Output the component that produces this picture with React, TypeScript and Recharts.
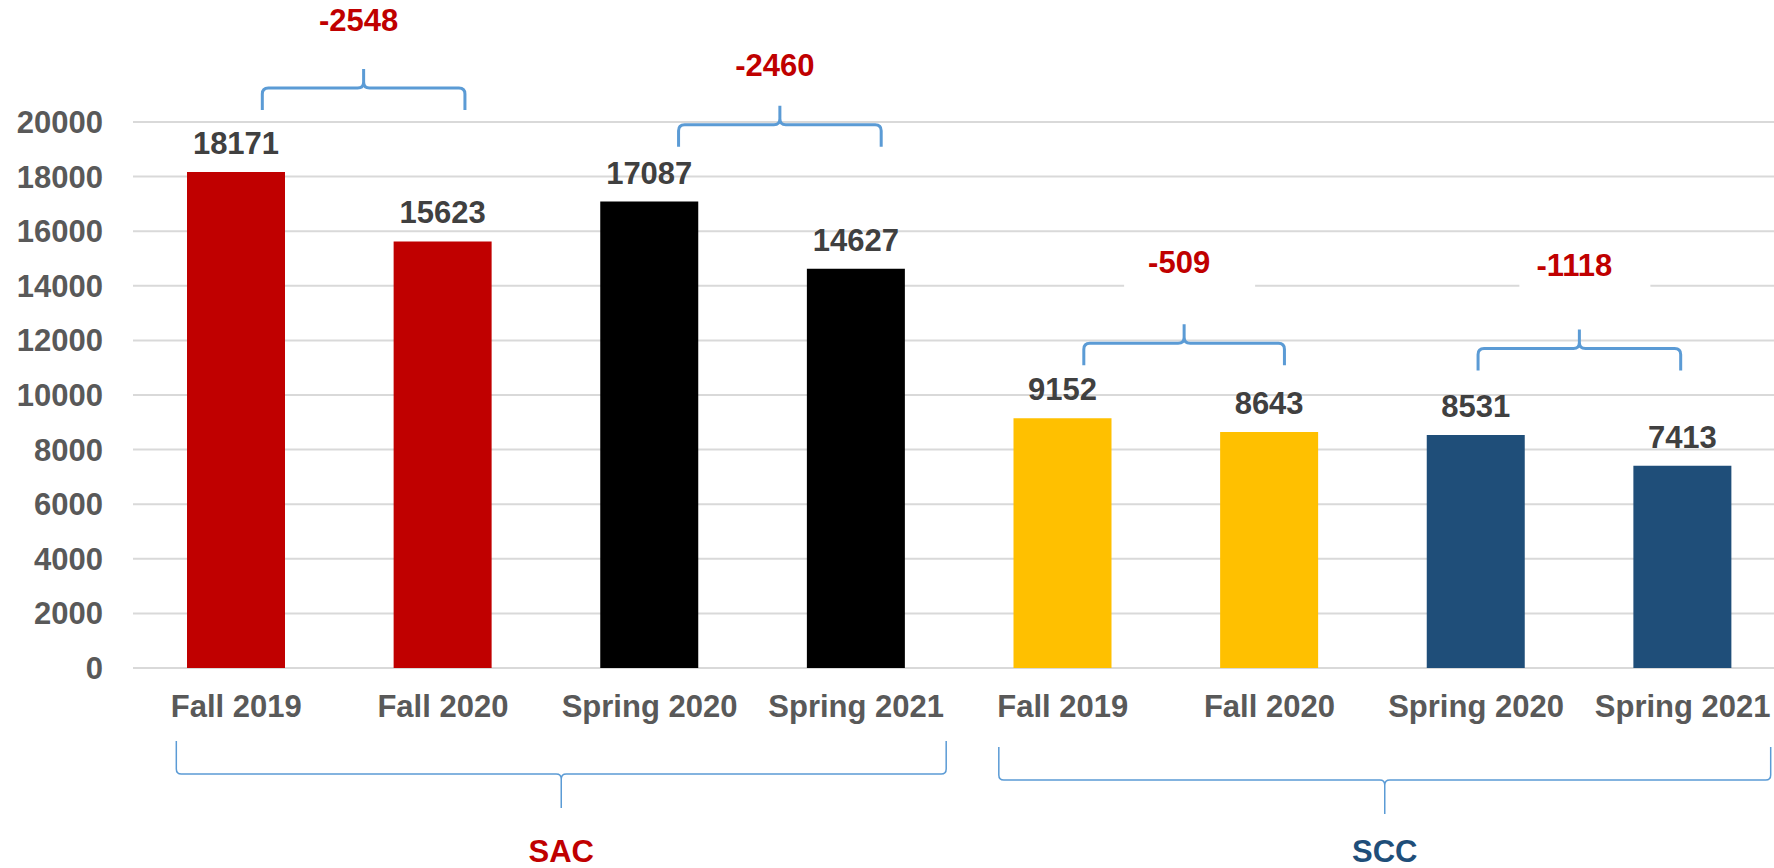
import { BarChart, Bar, XAxis, YAxis, CartesianGrid, Cell, LabelList, ReferenceLine } from "recharts";

const terms = ["Fall 2019", "Fall 2020", "Spring 2020", "Spring 2021"];
const sacValues = [18171, 15623, 17087, 14627];
const sccValues = [9152, 8643, 8531, 7413];
const yTicks = [0, 2000, 4000, 6000, 8000, 10000, 12000, 14000, 16000, 18000, 20000];

const barColors = ["#C00000", "#C00000", "#000000", "#000000", "#FFC000", "#FFC000", "#1F4E79", "#1F4E79"];
const BRACE = "#5B9BD5";
const FONT = 31;

const rows = [
  ...terms.map((t, i) => ({ key: `SAC|${t}`, value: sacValues[i] })),
  ...terms.map((t, i) => ({ key: `SCC|${t}`, value: sccValues[i] })),
];
const valueOf = (k: string) => rows.find(r => r.key === k)!.value;

// brackets over each pair; level / labelLevel in y units, dx in px
const pairs = [
  { from: "SAC|Fall 2019", to: "SAC|Fall 2020", level: 21250, labelLevel: 23330, dx: [26, 22], boxed: false },
  { from: "SAC|Spring 2020", to: "SAC|Spring 2021", level: 19900, labelLevel: 21670, dx: [29, 25], boxed: false },
  { from: "SCC|Fall 2019", to: "SCC|Fall 2020", level: 11900, labelLevel: 14470, dx: [21, 15], boxed: true },
  { from: "SCC|Spring 2020", to: "SCC|Spring 2021", level: 11700, labelLevel: 14360, dx: [2, -2], boxed: true },
];

// college brackets under the axis
const groups = [
  { name: "SAC", color: "#C00000", from: "SAC|Fall 2019", to: "SAC|Spring 2021", level: -3880, dx: [-60, 90], titleGap: 88 },
  { name: "SCC", color: "#1F4E79", from: "SCC|Fall 2019", to: "SCC|Spring 2021", level: -4100, dx: [-64, 88], titleGap: 82 },
];

// dir 1: legs go down, cusp up; dir -1: legs up, cusp down
function bracePath(xl: number, xr: number, y: number, leg: number, cusp: number, dir: number, r: number) {
  const xm = (xl + xr) / 2;
  return [
    `M${xl},${y + dir * leg} L${xl},${y + dir * r} Q${xl},${y} ${xl + r},${y}`,
    `L${xm - r},${y} Q${xm},${y} ${xm},${y - dir * r} L${xm},${y - dir * cusp}`,
    `M${xm},${y - dir * r} Q${xm},${y} ${xm + r},${y}`,
    `L${xr - r},${y} Q${xr},${y} ${xr},${y + dir * r} L${xr},${y + dir * leg}`,
  ].join(" ");
}

const renderValueLabel = (p: any) => (
  <text x={p.x + p.width / 2} y={p.y - 18} textAnchor="middle" fill="#404040" fontSize={FONT} fontWeight={700}>
    {p.value}
  </text>
);

export default function App() {
  return (
    <div style={{ position: "fixed", left: 0, top: 0, width: 1774, height: 868, overflow: "hidden", background: "#fff", fontFamily: "'Liberation Sans', Arial, sans-serif" }}>
      <BarChart width={1786} height={868} data={rows} margin={{ top: 122, right: 0, bottom: 140, left: 33 }}>
        <CartesianGrid vertical={false} stroke="#D9D9D9" strokeWidth={2} />
        <XAxis
          dataKey="key"
          tickFormatter={(k: string) => k.split("|")[1]}
          interval={0}
          axisLine={false}
          tickLine={false}
          tickSize={0}
          tickMargin={27}
          height={60}
          tick={{ fill: "#595959", fontSize: FONT, fontWeight: 700 }}
        />
        <YAxis
          domain={[0, 20000]}
          ticks={yTicks}
          interval={0}
          axisLine={false}
          tickLine={false}
          tickSize={0}
          tickMargin={30}
          width={100}
          tick={{ fill: "#595959", fontSize: FONT, fontWeight: 700 }}
        />
        <Bar dataKey="value" barSize={98} isAnimationActive={false}>
          {rows.map((r, i) => <Cell key={r.key} fill={barColors[i]} />)}
          <LabelList dataKey="value" content={renderValueLabel} />
        </Bar>
        {pairs.map(b => (
          <ReferenceLine
            key={"t" + b.from}
            ifOverflow="visible"
            segment={[{ x: b.from, y: b.labelLevel }, { x: b.to, y: b.labelLevel }]}
            shape={(p: any) => {
              const cx = (p.x1 + p.x2) / 2 + (b.dx[0] + b.dx[1]) / 2 - 5;
              return (
                <g>
                  {b.boxed && <rect x={cx + 10 - 65} y={p.y1 - 39} width={131} height={81} fill="#fff" />}
                  <text x={cx} y={p.y1} textAnchor="middle" fill="#C00000" fontSize={FONT} fontWeight={700}>
                    {valueOf(b.to) - valueOf(b.from)}
                  </text>
                </g>
              );
            }}
          />
        ))}
        {pairs.map(b => (
          <ReferenceLine
            key={"b" + b.from}
            ifOverflow="visible"
            segment={[{ x: b.from, y: b.level }, { x: b.to, y: b.level }]}
            shape={(p: any) => (
              <path
                d={bracePath(p.x1 + b.dx[0], p.x2 + b.dx[1], p.y1, 22, 19, 1, 6)}
                fill="none"
                stroke={BRACE}
                strokeWidth={3}
              />
            )}
          />
        ))}
        {groups.map(g => (
          <ReferenceLine
            key={g.name}
            ifOverflow="visible"
            segment={[{ x: g.from, y: g.level }, { x: g.to, y: g.level }]}
            shape={(p: any) => {
              const xl = p.x1 + g.dx[0];
              const xr = p.x2 + g.dx[1];
              return (
                <g>
                  <path d={bracePath(xl, xr, p.y1, 33, 34, -1, 5)} fill="none" stroke={BRACE} strokeWidth={1.5} />
                  <text x={(xl + xr) / 2} y={p.y1 + g.titleGap} textAnchor="middle" fill={g.color} fontSize={FONT} fontWeight={700}>
                    {g.name}
                  </text>
                </g>
              );
            }}
          />
        ))}
      </BarChart>
    </div>
  );
}
